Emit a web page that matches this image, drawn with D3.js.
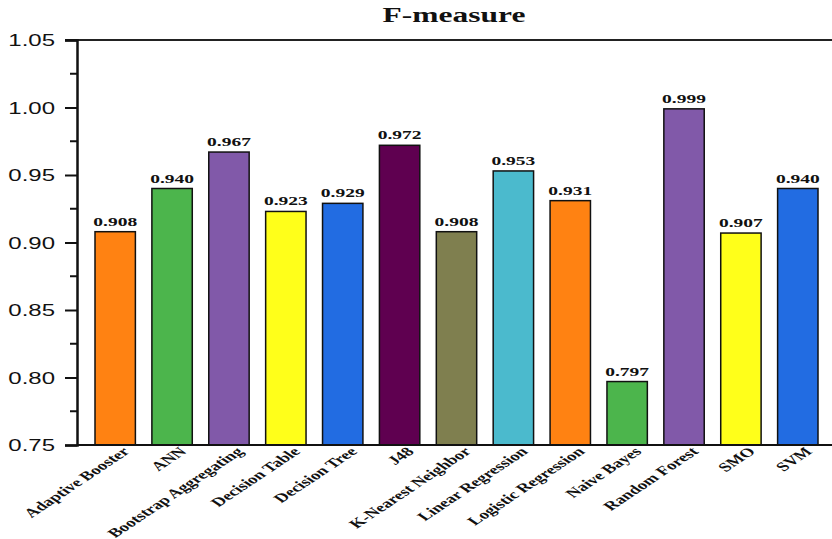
<!DOCTYPE html>
<html>
<head>
<meta charset="utf-8">
<script src="https://cdn.jsdelivr.net/npm/d3@7"></script>
<style>
  html, body { margin: 0; padding: 0; background: #fff; }
  svg { display: block; }
</style>
</head>
<body>
<svg id="chart" width="832" height="539"></svg>
<script>
// F-measure per classifier
const categories = ["Adaptive Booster", "ANN", "Bootstrap Aggregating", "Decision Table",
  "Decision Tree", "J48", "K-Nearest Neighbor", "Linear Regression", "Logistic Regression",
  "Naive Bayes", "Random Forest", "SMO", "SVM"];
const values = [0.908, 0.940, 0.967, 0.923, 0.929, 0.972, 0.908, 0.953, 0.931, 0.797, 0.999, 0.907, 0.940];
const barColors = ["#ff8212", "#4cb54c", "#8159a9", "#ffff1a", "#226ce2", "#5f0050",
  "#7f7f4f", "#4bbacd", "#ff8212", "#4cb54c", "#8159a9", "#ffff1a", "#226ce2"];
const yTicks = [0.75, 0.80, 0.85, 0.90, 0.95, 1.00, 1.05];
const title = "F-measure";

// text is drawn with a wide horizontal aspect
const SX = 1.5;
const serif = "Liberation Serif, Times New Roman, serif";

const svg = d3.select("#chart");
const plot = { left: 77, right: 832, top: 40, bottom: 445 };

const y = d3.scaleLinear().domain([0.75, 1.05]).range([plot.bottom, plot.top]);
const x = d3.scaleBand().domain(categories).range([95, 818]).paddingInner(0.29).paddingOuter(0);

// top frame line
svg.append("line").attr("x1", 65).attr("x2", plot.right).attr("y1", plot.top).attr("y2", plot.top)
  .attr("stroke", "#222").attr("stroke-width", 2);

// bars
svg.append("g").selectAll("rect").data(values).join("rect")
  .attr("x", (d, i) => x(categories[i]))
  .attr("width", x.bandwidth())
  .attr("y", d => y(d))
  .attr("height", d => y(0.75) - y(d))
  .attr("fill", (d, i) => barColors[i])
  .attr("stroke", "#111").attr("stroke-width", 1.5);

// value labels
svg.append("g").selectAll("text").data(values).join("text")
  .attr("transform", (d, i) => `translate(${x(categories[i]) + x.bandwidth() / 2},${y(d) - 6}) scale(${SX},1)`)
  .attr("text-anchor", "middle")
  .attr("font-family", serif)
  .attr("font-weight", "bold").attr("font-size", 13)
  .attr("fill", "#111")
  .text(d => d.toFixed(3));

// y axis with minor ticks
const yAxis = d3.axisLeft(y).tickValues(yTicks).tickFormat(d3.format(".2f")).tickSize(12);
const gy = svg.append("g").attr("transform", `translate(${plot.left},0)`).call(yAxis);
gy.select(".domain").attr("stroke", "#111").attr("stroke-width", 2.5);
gy.selectAll(".tick line").attr("stroke", "#111").attr("stroke-width", 2);
gy.selectAll(".tick text")
  .attr("x", 0).attr("dy", "0.36em")
  .attr("transform", `translate(-22,0) scale(${SX},1)`)
  .attr("font-family", "Liberation Sans, Arial, sans-serif")
  .attr("font-size", 16).attr("fill", "#111");
const minor = d3.range(0.775, 1.05, 0.05);
svg.append("g").selectAll("line").data(minor).join("line")
  .attr("x1", plot.left - 7).attr("x2", plot.left)
  .attr("y1", d => y(d)).attr("y2", d => y(d))
  .attr("stroke", "#111").attr("stroke-width", 2);

// x axis line
svg.append("line").attr("x1", plot.left).attr("x2", plot.right).attr("y1", plot.bottom).attr("y2", plot.bottom)
  .attr("stroke", "#111").attr("stroke-width", 2);

// rotated category labels
svg.append("g").selectAll("text").data(categories).join("text")
  .attr("transform", d => `translate(${x(d) + x.bandwidth() / 2 + 6},${plot.bottom + 1}) scale(${SX},1) rotate(-45)`)
  .attr("text-anchor", "end")
  .attr("dy", "0.7em")
  .attr("font-family", serif)
  .attr("font-weight", "bold").attr("font-size", 12.6)
  .attr("fill", "#111")
  .text(d => d);

// title
svg.append("text")
  .attr("transform", `translate(454,22) scale(${SX},1)`)
  .attr("text-anchor", "middle")
  .attr("font-family", serif)
  .attr("font-weight", "bold").attr("font-size", 21).attr("fill", "#111")
  .text(title);
</script>
</body>
</html>
